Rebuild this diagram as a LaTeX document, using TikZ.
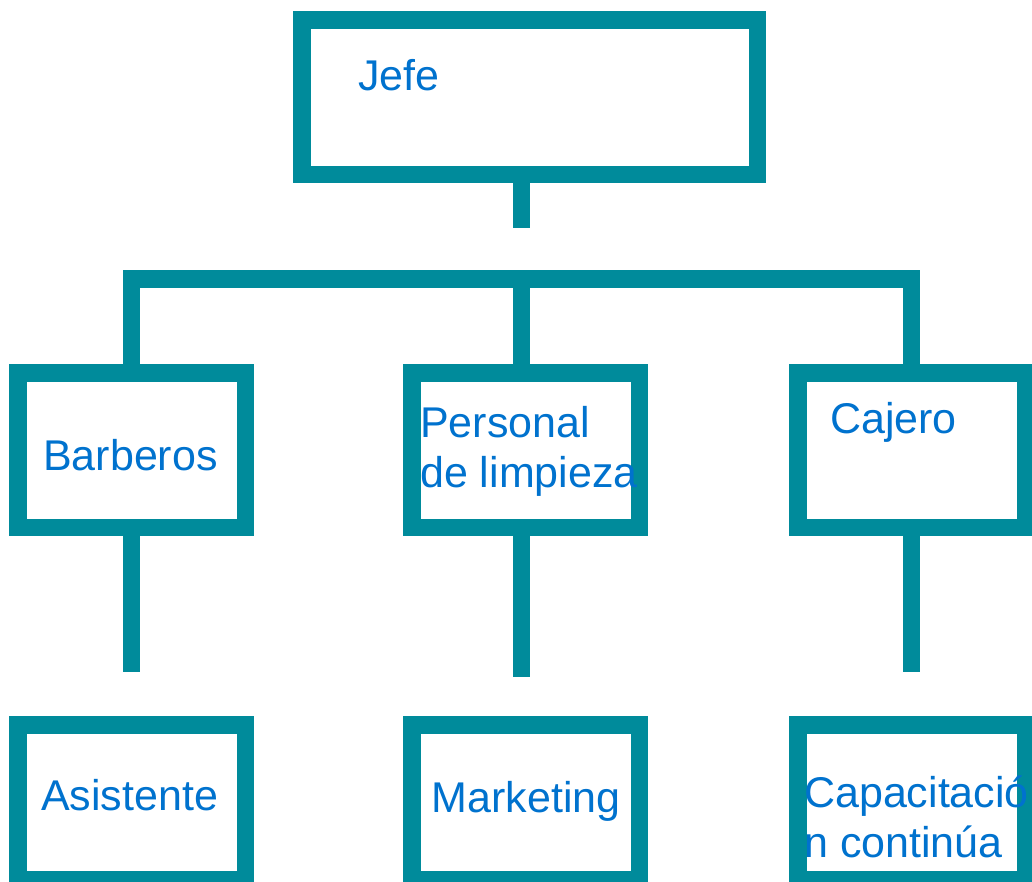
\documentclass[tikz,border=0pt]{standalone}
\usepackage{fontspec}
\setmainfont{Liberation Sans}
\definecolor{teal1}{RGB}{0,139,155}
\definecolor{txt}{RGB}{0,114,206}
\begin{document}
\begin{tikzpicture}[x=1pt,y=-1pt,
  box/.style={draw=teal1,line width=17.5pt,rectangle,inner sep=0pt,minimum width=227.5pt,minimum height=154.5pt},
  conn/.style={draw=teal1,line width=17.5pt,line join=miter},
  lbl/.style={anchor=base west,inner sep=0pt,text=txt,font=\fontsize{43}{50}\selectfont,align=left}]
\useasboundingbox (0,0) rectangle (1032,881);
\clip (0,0) rectangle (1032,881);
% boxes
\node[box,minimum width=455.5pt] (jefe) at (529.5,97) {};
\node[box] (barb) at (131.5,450) {};
\node[box] (pers) at (525.5,450) {};
\node[box] (caj) at (911.5,450) {};
\node[box] (asis) at (131.5,802) {};
\node[box] (mark) at (525.5,802) {};
\node[box] (capa) at (911.5,802) {};
% coordinates
\coordinate (jstem) at (521.7,228);
\coordinate (bus) at (521.7,279);
\coordinate (pstem) at (521.7,0);
\coordinate (bend) at (131.5,671.7);
\coordinate (pend) at (521.7,677);
\coordinate (cend) at (911.5,671.7);
% connectors
\draw[conn] (jefe.south -| jstem) -- (jstem);
\draw[conn] (barb.north) -- (barb.north |- bus) -- (caj.north |- bus) -- (caj.north);
\draw[conn] (bus) -- (pers.north -| pstem);
\draw[conn] (barb.south) -- (bend);
\draw[conn] (pers.south -| pstem) -- (pend);
\draw[conn] (caj.south) -- (cend);
% labels
\node[lbl] (tjefe) at (358,90) {Jefe};
\node[lbl] (tbarb) at (43,470) {Barberos};
\node[lbl] (tpers) at (420,487) {Personal\\de limpieza};
\node[lbl] (tcaj) at (830,433) {Cajero};
\node[lbl] (tasis) at (41,810.7) {Asistente};
\node[lbl] (tmark) at (431.7,812.7) {Marketing};
\node[lbl] (tcapa) at (804,857) {Capacitació\\n continúa};
\end{tikzpicture}
\end{document}
